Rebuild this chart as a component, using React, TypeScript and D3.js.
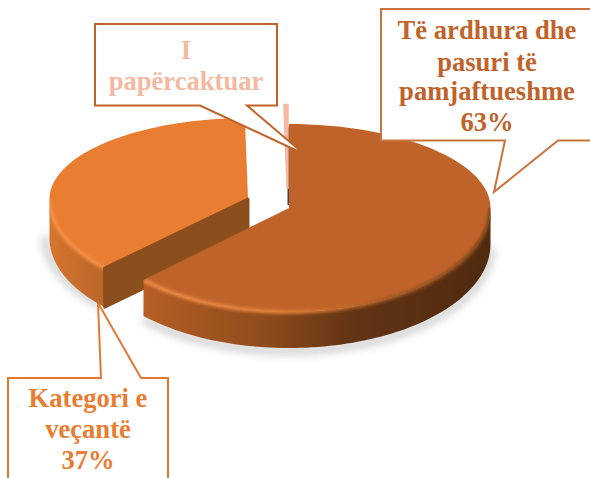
import React from "react";
import * as d3 from "d3";

const categories = ["Të ardhura dhe pasuri të pamjaftueshme", "Kategori e veçantë", "I papërcaktuar"];
const values = [63, 37, 0.25];
const centers: [number, number][] = [[289, 208], [248, 199], [287.5, 189]];
const frontRadii = [104, 100, 100];
const backRadii = [84, 81, 84];
const radiiX = [201.5, 198.5, 200];
const depths = [36, 39, 38];
const topColors = ["#C0632A", "#E97D32", "#F4B9A2"];
const labelLines = [["Të ardhura dhe", "pasuri të", "pamjaftueshme", "63%"], ["Kategori e", "veçantë", "37%"], ["I", "papërcaktuar"]];

export default function App() {
  const arcs = d3.pie<number>().sort(null)(values);
  const project = (i: number, a: number): [number, number] => {
    const cos = Math.cos(a);
    const c = centers[i];
    return [c[0] + radiiX[i] * Math.sin(a), c[1] - (cos > 0 ? backRadii[i] : frontRadii[i]) * cos];
  };
  const sample = (a0: number, a1: number) => d3.range(0, 81).map((n) => a0 + ((a1 - a0) * n) / 80);
  const line = d3.line();

  const slices = arcs.map((d, i) => {
    const c = centers[i];
    const pts = sample(d.startAngle, d.endAngle).map((a) => project(i, a));
    const top = line([c, ...pts])! + "Z";
    const a0 = Math.max(d.startAngle, Math.PI / 2);
    const a1 = Math.min(d.endAngle, (3 * Math.PI) / 2);
    const vis = a1 > a0 ? sample(a0, a1).map((a) => project(i, a)) : [];
    const wall = vis.length
      ? line([...vis, ...[...vis].reverse().map(([x, y]) => [x, y + depths[i]] as [number, number])])! + "Z"
      : "";
    const rim = vis.length ? line(vis)! : "";
    return { c, top, wall, rim, pts, vis, d };
  });

  const [big, left, tiny] = slices;
  const corner = project(1, left.d.startAngle);
  const cutWall = line([left.c, corner, [corner[0], corner[1] + depths[1]], [left.c[0], left.c[1] + depths[1]]])! + "Z";
  const shadowBig = line(big.vis.map(([x, y]) => [x, y + depths[0] + 3] as [number, number]))!;
  const shadowLeft = line(left.vis.map(([x, y]) => [x - 4, y + depths[1] - 2] as [number, number]))!;

  const bold = { fontFamily: "'Liberation Serif', serif", fontWeight: 700, fontSize: 26.6, textAnchor: "middle" as const };

  return (
    <svg width={590} height={478} style={{ position: "absolute", left: 0, top: 0, background: "#fff" }}>
      <defs>
        <linearGradient id="wallBig" gradientUnits="userSpaceOnUse" x1="141" y1="0" x2="490" y2="0">
          <stop offset="0" stopColor="#B65F25" />
          <stop offset="0.35" stopColor="#8F4C1C" />
          <stop offset="0.6" stopColor="#643414" />
          <stop offset="1" stopColor="#4F2A10" />
        </linearGradient>
        <linearGradient id="rimBig" gradientUnits="userSpaceOnUse" x1="141" y1="0" x2="490" y2="0">
          <stop offset="0" stopColor="#EE8C45" />
          <stop offset="0.4" stopColor="#E08038" />
          <stop offset="0.7" stopColor="#A65A24" />
          <stop offset="1" stopColor="#7A4218" />
        </linearGradient>
        <linearGradient id="wallLeft" gradientUnits="userSpaceOnUse" x1="48" y1="0" x2="105" y2="0">
          <stop offset="0" stopColor="#D8762D" />
          <stop offset="1" stopColor="#B9652A" />
        </linearGradient>
        <filter id="blur" x="-20%" y="-50%" width="140%" height="200%"><feGaussianBlur stdDeviation="4" /></filter>
        <filter id="blur2" x="-300%" y="-20%" width="700%" height="140%"><feGaussianBlur stdDeviation="1.6" /></filter>
        <filter id="blur3" x="-20%" y="-50%" width="140%" height="200%"><feGaussianBlur stdDeviation="1.6" /></filter>
        <clipPath id="clipBig"><path d={big.top} /><path d={big.wall} /></clipPath>
        <clipPath id="clipLeft"><path d={left.top} /><path d={left.wall} /></clipPath>
      </defs>

      <path d={shadowBig} fill="none" stroke="#a8a8a8" strokeWidth={6} filter="url(#blur)" opacity={0.7} />
      <path d={shadowLeft} fill="none" stroke="#a8a8a8" strokeWidth={6} filter="url(#blur)" opacity={0.7} />

      <path d={left.wall} fill="url(#wallLeft)" />
      <path d={left.top} fill={topColors[1]} />
      <g clipPath="url(#clipLeft)">
        <path d={left.rim} fill="none" stroke="#F48F45" strokeWidth={4} filter="url(#blur3)" />
      </g>
      <path d={cutWall} fill="#8B4F1E" stroke="#8B4F1E" strokeLinejoin="round" strokeWidth={3} />
      <path d={line([[252, 135], [252, 225]])!} stroke="#c4c4c4" strokeWidth={3} filter="url(#blur2)" />
      <path d={line([[285, 140], [285, 205]])!} stroke="#d2d2d2" strokeWidth={3} filter="url(#blur2)" />
      <path d={line([[288.5, 127], [288.5, 205]])!} stroke="#4a3c3c" strokeWidth={2} />
      <path d={tiny.top} fill={topColors[2]} stroke={topColors[2]} strokeWidth={2.4} />

      <path d={big.wall} fill="url(#wallBig)" />
      <path d={big.top} fill={topColors[0]} />
      <g clipPath="url(#clipBig)">
        <path d={big.rim} fill="none" stroke="url(#rimBig)" strokeWidth={4} filter="url(#blur3)" />
      </g>

      <path d="M95 24H277V105.5H247L304 154L200 105.5H95Z" fill="#fff" stroke="#C0632A" strokeWidth={2} />
      <path d="M381 9H592V140.5H558L494 192L505 140.5H381Z" fill="#fff" stroke="#C9743E" strokeWidth={2} />
      <path d="M8 378H101L98 303L141 378H168V480H8Z" fill="#fff" stroke="#E07A33" strokeWidth={2} />

      {labelLines[0].map((t, i) => (
        <text key={t} x={487} y={[39, 71, 100, 131][i]} fill={topColors[0]} {...bold}>{t}</text>
      ))}
      {labelLines[1].map((t, i) => (
        <text key={t} x={88} y={[407, 438, 469][i]} fill={topColors[1]} {...bold}>{t}</text>
      ))}
      {labelLines[2].map((t, i) => (
        <text key={t} x={186} y={[59, 90][i]} fill={topColors[2]} {...bold}>{t}</text>
      ))}
      <title>{categories.join(", ")}</title>
    </svg>
  );
}
